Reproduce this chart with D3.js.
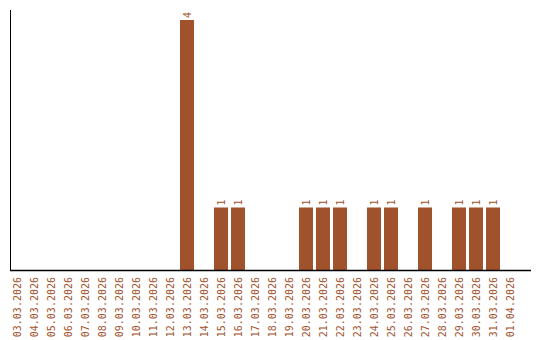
<!DOCTYPE html>
<html><head><meta charset="utf-8">
<script src="https://cdn.jsdelivr.net/npm/d3@7"></script>
<style>body{margin:0;background:#fff}svg{display:block}</style>
</head><body><svg id="c" width="540" height="340"></svg>
<script>
const categories = ["03.03.2026","04.03.2026","05.03.2026","06.03.2026","07.03.2026","08.03.2026","09.03.2026","10.03.2026","11.03.2026","12.03.2026","13.03.2026","14.03.2026","15.03.2026","16.03.2026","17.03.2026","18.03.2026","19.03.2026","20.03.2026","21.03.2026","22.03.2026","23.03.2026","24.03.2026","25.03.2026","26.03.2026","27.03.2026","28.03.2026","29.03.2026","30.03.2026","31.03.2026","01.04.2026"];
const values = [0,0,0,0,0,0,0,0,0,0,4,0,1,1,0,0,0,1,1,1,0,1,1,0,1,0,1,1,1,0];
const color = "#A0522D";
const svg = d3.select("#c");
const x = d3.scaleBand().domain(categories).range([10, 517]).paddingInner(3/17).paddingOuter(0);
const y = d3.scaleLinear().domain([0, 4]).range([270, 20]);
const data = categories.map((c, i) => ({c, v: values[i]}));
svg.selectAll("rect.bar").data(data.filter(d => d.v > 0)).join("rect")
  .attr("class","bar").attr("x", d => x(d.c)).attr("width", x.bandwidth())
  .attr("y", d => y(d.v)).attr("height", d => y(0) - y(d.v)).attr("fill", color);
svg.selectAll("text.val").data(data.filter(d => d.v > 0)).join("text")
  .attr("class","val")
  .attr("transform", d => `translate(${x(d.c) + x.bandwidth()/2 + 3.5},${y(d.v) - 2}) rotate(-90)`)
  .attr("font-family","DejaVu Sans Mono").attr("font-size", 10).attr("fill", color)
  .text(d => d.v);
svg.selectAll("text.xl").data(categories).join("text")
  .attr("class","xl")
  .attr("transform", d => `translate(${x(d) + x.bandwidth()/2 + 3.5},277) rotate(-90)`)
  .attr("text-anchor","end")
  .attr("font-family","DejaVu Sans Mono").attr("font-size", 10).attr("fill", color)
  .text(d => d);
svg.append("line").attr("x1",10.5).attr("x2",10.5).attr("y1",10).attr("y2",270.5).attr("stroke","#000").attr("stroke-width",1);
svg.append("line").attr("x1",10).attr("x2",531).attr("y1",270.5).attr("y2",270.5).attr("stroke","#000").attr("stroke-width",1.5);
</script></body></html>
